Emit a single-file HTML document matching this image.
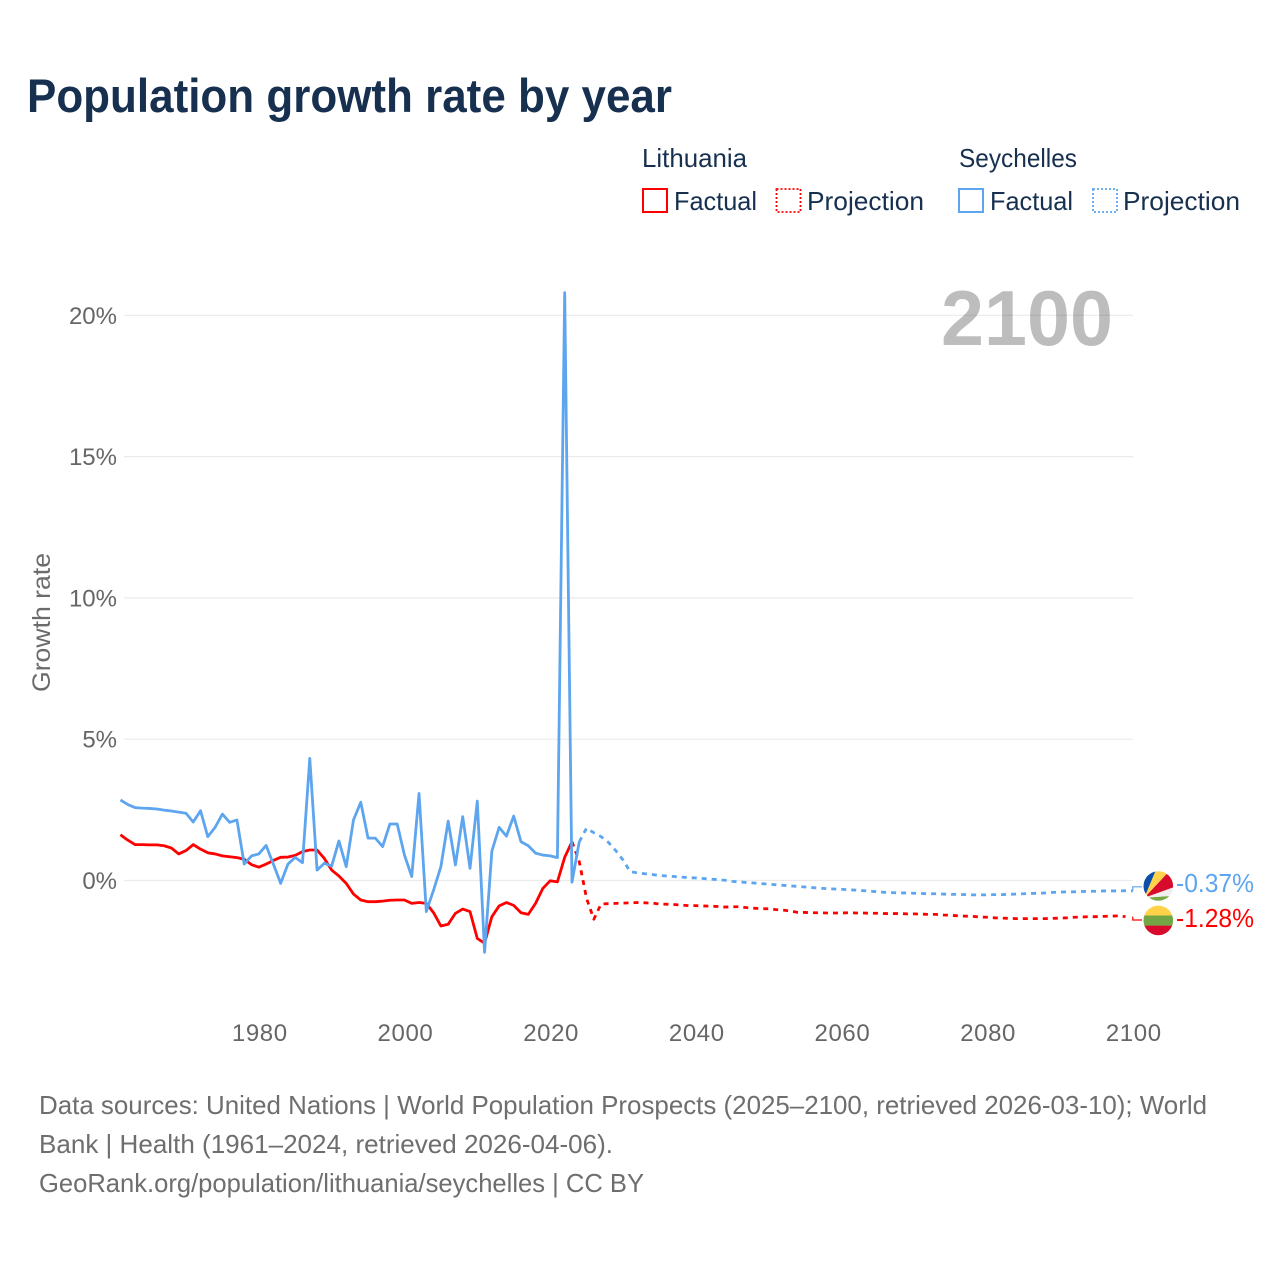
<!DOCTYPE html>
<html lang="en">
<head>
<meta charset="utf-8">
<title>Population growth rate by year</title>
<style>
html,body{margin:0;padding:0;background:#fff;}
svg{display:block;font-family:"Liberation Sans",sans-serif;}
</style>
</head>
<body>
<svg id="chart" width="1280" height="1280" viewBox="0 0 1280 1280" xmlns="http://www.w3.org/2000/svg">
<defs>
<clipPath id="flag-clip-sc"><circle cx="1158.3" cy="886" r="14.8"/></clipPath>
<clipPath id="flag-clip-lt"><circle cx="1158.3" cy="920.4" r="14.8"/></clipPath>
</defs>
<rect x="0" y="0" width="1280" height="1280" fill="#fff"/>
<text x="27" y="112" font-size="47.5" font-weight="700" fill="#17304f" textLength="645" lengthAdjust="spacingAndGlyphs">Population growth rate by year</text>

<g font-size="26" fill="#17304f">
<text x="642" y="167" textLength="105" lengthAdjust="spacingAndGlyphs">Lithuania</text>
<rect x="643" y="189" width="24" height="23" fill="#fff" stroke="#f00" stroke-width="2"/>
<text x="674" y="210" textLength="83" lengthAdjust="spacingAndGlyphs">Factual</text>
<rect x="776.5" y="189" width="24" height="23" fill="#fff" stroke="#f00" stroke-width="1.8" stroke-dasharray="2,2"/>
<text x="807" y="210" textLength="117" lengthAdjust="spacingAndGlyphs">Projection</text>
<text x="959" y="167" textLength="118" lengthAdjust="spacingAndGlyphs">Seychelles</text>
<rect x="959" y="189" width="24" height="23" fill="#fff" stroke="#5da5ee" stroke-width="2"/>
<text x="990" y="210" textLength="83" lengthAdjust="spacingAndGlyphs">Factual</text>
<rect x="1093" y="189" width="24" height="23" fill="#fff" stroke="#5da5ee" stroke-width="1.8" stroke-dasharray="2,2"/>
<text x="1123" y="210" textLength="117" lengthAdjust="spacingAndGlyphs">Projection</text>
</g>

<g id="grid"></g>
<text x="941" y="345" font-size="78" font-weight="700" fill="#000" fill-opacity="0.26" textLength="172" lengthAdjust="spacingAndGlyphs">2100</text>
<g id="y-ticks"></g>
<g id="x-ticks"></g>
<text transform="translate(50,622.5) rotate(-90)" text-anchor="middle" font-size="25" fill="#6b6b6b" textLength="139" lengthAdjust="spacingAndGlyphs">Growth rate</text>
<g id="series"></g>

<g clip-path="url(#flag-clip-sc)">
<polygon points="1144.3,897.7 1180,895.2 1180,905 1140,905 1140,898" fill="#75a843"/>
<polygon points="1144.3,897.7 1180,885 1180,895.2" fill="#eeeeee"/>
<polygon points="1144.3,897.7 1175,865 1180,865 1180,885" fill="#d80b2c"/>
<polygon points="1144.3,897.7 1158,865 1175,865" fill="#ffd24a"/>
<polygon points="1144.3,897.7 1158,865 1130,865 1130,898" fill="#0d4fa8"/>
</g>
<g clip-path="url(#flag-clip-lt)">
<rect x="1143" y="905" width="31" height="10.5" fill="#ffd24a"/>
<rect x="1143" y="915.5" width="31" height="10.3" fill="#72a645"/>
<rect x="1143" y="925.6" width="31" height="11" fill="#d80b2c"/>
</g>
<text id="label-sc" x="1176" y="892" font-size="25.5" fill="#5da5ee" textLength="78" lengthAdjust="spacingAndGlyphs"></text>
<text id="label-lt" x="1176" y="927" font-size="25.5" fill="#f00" textLength="78" lengthAdjust="spacingAndGlyphs"></text>

<g font-size="26" fill="#6e6e6e">
<text x="39" y="1114" textLength="1168" lengthAdjust="spacingAndGlyphs">Data sources: United Nations | World Population Prospects (2025–2100, retrieved 2026-03-10); World</text>
<text x="39" y="1153" textLength="574" lengthAdjust="spacingAndGlyphs">Bank | Health (1961–2024, retrieved 2026-04-06).</text>
<text x="39" y="1192" textLength="605" lengthAdjust="spacingAndGlyphs">GeoRank.org/population/lithuania/seychelles | CC BY</text>
</g>
</svg>
<script>
const yTickValues = [0, 5, 10, 15, 20];
const xTickValues = [1980, 2000, 2020, 2040, 2060, 2080, 2100];
const lithuaniaFactualStart = 1961;
const lithuaniaFactual = [1.62,1.43,1.27,1.27,1.26,1.26,1.23,1.15,0.94,1.06,1.27,1.11,0.98,0.94,0.87,0.84,0.81,0.75,0.56,0.47,0.58,0.71,0.82,0.83,0.89,1.02,1.08,1.08,0.78,0.37,0.16,-0.10,-0.48,-0.69,-0.75,-0.75,-0.73,-0.70,-0.69,-0.69,-0.81,-0.78,-0.81,-1.14,-1.61,-1.55,-1.16,-1.01,-1.10,-2.05,-2.22,-1.28,-0.90,-0.78,-0.88,-1.14,-1.20,-0.81,-0.28,-0.01,-0.05,0.82,1.37];
const lithuaniaProjectionStart = 2023;
const lithuaniaProjection = [1.37,0.67,-0.63,-1.37,-0.83,-0.82,-0.81,-0.80,-0.79,-0.78,-0.79,-0.80,-0.83,-0.84,-0.85,-0.87,-0.89,-0.89,-0.90,-0.91,-0.92,-0.94,-0.93,-0.93,-0.96,-0.98,-1.00,-1.00,-1.03,-1.05,-1.08,-1.13,-1.13,-1.14,-1.14,-1.15,-1.15,-1.15,-1.14,-1.15,-1.15,-1.16,-1.16,-1.17,-1.17,-1.17,-1.18,-1.18,-1.19,-1.20,-1.20,-1.22,-1.23,-1.25,-1.26,-1.27,-1.29,-1.30,-1.32,-1.33,-1.34,-1.35,-1.35,-1.35,-1.35,-1.35,-1.34,-1.33,-1.32,-1.30,-1.29,-1.28,-1.28,-1.27,-1.26,-1.25,-1.28];
const seychellesFactualStart = 1961;
const seychellesFactual = [2.85,2.69,2.58,2.56,2.55,2.53,2.49,2.46,2.42,2.38,2.07,2.47,1.55,1.88,2.35,2.06,2.14,0.58,0.87,0.94,1.24,0.58,-0.10,0.58,0.82,0.63,4.32,0.37,0.61,0.51,1.40,0.49,2.14,2.77,1.50,1.50,1.20,2.00,2.00,0.90,0.14,3.08,-1.10,-0.34,0.49,2.10,0.55,2.26,0.43,2.81,-2.54,1.04,1.88,1.57,2.28,1.37,1.23,0.97,0.90,0.87,0.81,20.8,-0.06,1.37];
const seychellesProjectionStart = 2024;
const seychellesProjection = [1.37,1.85,1.69,1.55,1.35,1.06,0.73,0.31,0.27,0.24,0.21,0.18,0.16,0.14,0.12,0.10,0.09,0.07,0.05,0.03,0.01,-0.03,-0.05,-0.07,-0.09,-0.11,-0.13,-0.15,-0.17,-0.19,-0.21,-0.23,-0.25,-0.27,-0.29,-0.30,-0.31,-0.33,-0.34,-0.36,-0.38,-0.40,-0.42,-0.43,-0.44,-0.44,-0.45,-0.46,-0.47,-0.47,-0.48,-0.49,-0.49,-0.50,-0.51,-0.51,-0.51,-0.50,-0.50,-0.49,-0.48,-0.47,-0.46,-0.45,-0.44,-0.42,-0.41,-0.40,-0.40,-0.39,-0.38,-0.38,-0.37,-0.37,-0.37,-0.36,-0.37];

const SVG_NS = 'http://www.w3.org/2000/svg';
function xScale(year) { return 258.8 + (year - 1980) * 7.283; }
function yScale(pct) { return 880.5 - pct * 28.26; }
function fmtPct(v) { return v.toFixed(2) + '%'; }
function linePath(start, values) {
  return values.map(function (v, i) {
    return (i ? 'L' : 'M') + xScale(start + i).toFixed(2) + ' ' + yScale(v).toFixed(2);
  }).join('');
}
function make(tag, parent) {
  const el = document.createElementNS(SVG_NS, tag);
  parent.appendChild(el);
  return el;
}

const gridGroup = document.getElementById('grid');
const yTickGroup = document.getElementById('y-ticks');
yTickValues.forEach(function (v) {
  const line = make('line', gridGroup);
  
  
  line.setAttribute('x1', 124);
  line.setAttribute('x2', 1133);
  line.setAttribute('y1', yScale(v));
  line.setAttribute('y2', yScale(v));
  line.setAttribute('stroke', '#ebebeb');
  line.setAttribute('stroke-width', 1.2);
  const label = make('text', yTickGroup);
  
  
  label.setAttribute('x', 117);
  label.setAttribute('y', yScale(v) + 8.5);
  label.setAttribute('text-anchor', 'end');
  label.setAttribute('font-size', 24);
  label.setAttribute('fill', '#666');
  label.textContent = v + '%';
});

const xTickGroup = document.getElementById('x-ticks');
xTickValues.forEach(function (v) {
  const label = make('text', xTickGroup);
  
  
  label.setAttribute('x', xScale(v) + 1.0);
  label.setAttribute('y', 1041);
  label.setAttribute('text-anchor', 'middle');
  label.setAttribute('font-size', 24);
  label.setAttribute('letter-spacing', '0.6');
  label.setAttribute('fill', '#666');
  label.textContent = v;
});

const seriesGroup = document.getElementById('series');
const RED = '#ff0000';
const BLUE = '#5da5ee';
function drawLine(name, d, color, dashed) {
  const p = make('path', seriesGroup);
  
  
  p.setAttribute('d', d);
  p.setAttribute('fill', 'none');
  p.setAttribute('stroke', color);
  p.setAttribute('stroke-width', 2.8);
  p.setAttribute('stroke-linejoin', 'round');
  if (dashed) p.setAttribute('stroke-dasharray', '5,5');
}
drawLine('lithuania-factual-line', linePath(lithuaniaFactualStart, lithuaniaFactual), RED, false);
drawLine('lithuania-projection-line', linePath(lithuaniaProjectionStart, lithuaniaProjection), RED, true);
drawLine('seychelles-factual-line', linePath(seychellesFactualStart, seychellesFactual), BLUE, false);
drawLine('seychelles-projection-line', linePath(seychellesProjectionStart, seychellesProjection), BLUE, true);

const seychellesLast = seychellesProjection[seychellesProjection.length - 1];
const lithuaniaLast = lithuaniaProjection[lithuaniaProjection.length - 1];
function drawConnector(name, lastValue, flagY, color) {
  const endX = xScale(2100);
  const c = make('path', seriesGroup);
  
  
  c.setAttribute('d', 'M' + endX + ' ' + yScale(lastValue) + 'V' + flagY + 'H1142');
  c.setAttribute('fill', 'none');
  c.setAttribute('stroke', color);
  c.setAttribute('stroke-width', 1.2);
}
drawConnector('seychelles-connector', seychellesLast, 886.8, BLUE);
drawConnector('lithuania-connector', lithuaniaLast, 920, RED);
document.getElementById('label-sc').textContent = fmtPct(seychellesLast);
document.getElementById('label-lt').textContent = fmtPct(lithuaniaLast);
</script>
</body>
</html>
